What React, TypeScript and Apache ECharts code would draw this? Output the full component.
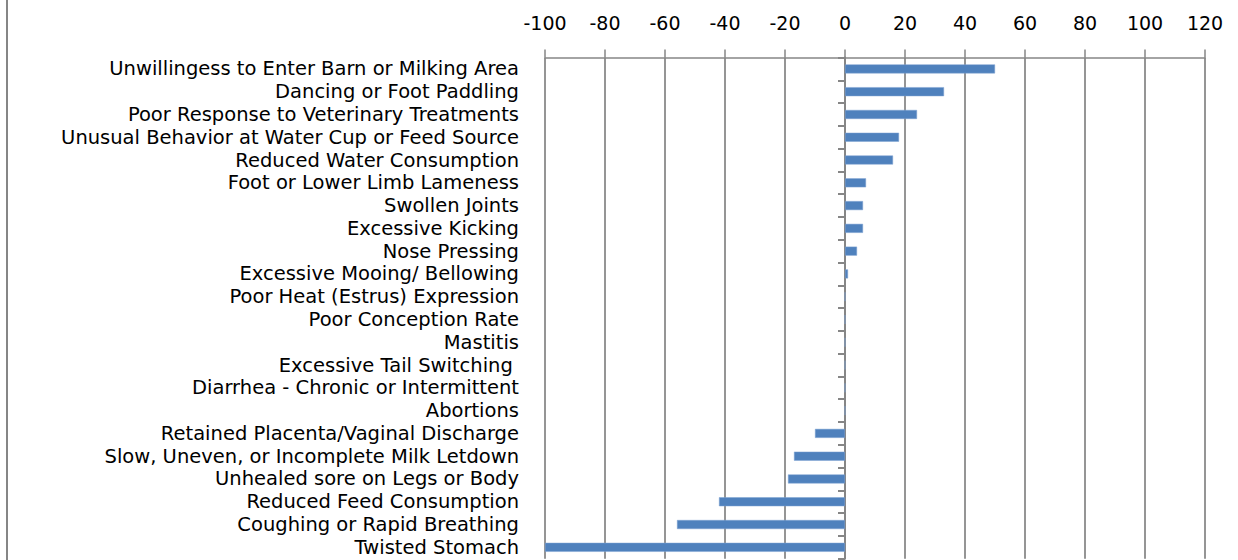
import React, { useEffect, useRef } from "react";
import * as echarts from "echarts";

const categories: string[] = [
  "Unwillingess to Enter Barn or Milking Area",
  "Dancing or Foot Paddling",
  "Poor Response to Veterinary Treatments",
  "Unusual Behavior at Water Cup or Feed Source",
  "Reduced Water Consumption",
  "Foot or Lower Limb Lameness",
  "Swollen Joints",
  "Excessive Kicking",
  "Nose Pressing",
  "Excessive Mooing/ Bellowing",
  "Poor Heat (Estrus) Expression",
  "Poor Conception Rate",
  "Mastitis",
  "Excessive Tail Switching ",
  "Diarrhea - Chronic or Intermittent",
  "Abortions",
  "Retained Placenta/Vaginal Discharge",
  "Slow, Uneven, or Incomplete Milk Letdown",
  "Unhealed sore on Legs or Body",
  "Reduced Feed Consumption",
  "Coughing or Rapid Breathing",
  "Twisted Stomach",
];

const values: number[] = [
  50, 33, 24, 18, 16, 7, 6, 6, 4, 1, 0, 0, 0, 0, 0, 0, -10, -17, -19, -42, -56, -100,
];

const xMin = -100;
const xMax = 120;
const xStep = 20;

const FONT = "'DejaVu Sans', sans-serif";

export default function App() {
  const ref = useRef<HTMLDivElement>(null);
  useEffect(() => {
    document.body.style.margin = "0";
    if (!ref.current) return;
    const chart = echarts.init(ref.current, null, { renderer: "svg" });
    const gray = "#868686";
    chart.setOption({
      animation: false,
      backgroundColor: "#ffffff",
      grid: { left: 545, right: 33, top: 57.5, bottom: 1.3, containLabel: false },
      graphic: [
        {
          type: "rect",
          shape: { x: 6, y: 0, width: 2, height: 560 },
          style: { fill: gray },
          silent: true,
        },
      ],
      xAxis: {
        type: "value",
        position: "top",
        min: xMin,
        max: xMax,
        interval: xStep,
        axisLine: { show: true, onZero: false, lineStyle: { color: gray, width: 1.5 } },
        axisTick: { show: true, inside: false, length: 8, lineStyle: { color: gray, width: 1.5 } },
        splitLine: { show: true, lineStyle: { color: gray, width: 1.75 } },
        axisLabel: {
          color: "#000",
          fontFamily: FONT,
          fontSize: 19,
          margin: 25,
        },
      },
      yAxis: [
        {
          type: "category",
          data: categories,
          inverse: true,
          position: "left",
          axisLine: { show: false, onZero: false },
          axisTick: { show: false },
          splitLine: { show: false },
          axisLabel: {
            color: "#000",
            fontFamily: FONT,
            fontSize: 19.5,
            lineHeight: 22,
            padding: [3, 0, 0, 0],
            margin: 26,
            interval: 0,
          },
        },
        {
          type: "category",
          data: categories,
          inverse: true,
          position: "left",
          axisLine: { show: true, onZero: true, lineStyle: { color: gray, width: 2 } },
          axisTick: { show: true, length: 7, inside: false, interval: 0, lineStyle: { color: gray, width: 2 } },
          splitLine: { show: false },
          axisLabel: { show: false },
        },
      ],
      series: [
        {
          type: "bar",
          yAxisIndex: 0,
          data: values,
          barWidth: 9,
          itemStyle: { color: "#4F81BD", borderColor: "#7FA2D2", borderWidth: 0.5 },
        },
      ],
    });
    return () => chart.dispose();
  }, []);
  return <div ref={ref} style={{ width: 1238, height: 560 }} />;
}
